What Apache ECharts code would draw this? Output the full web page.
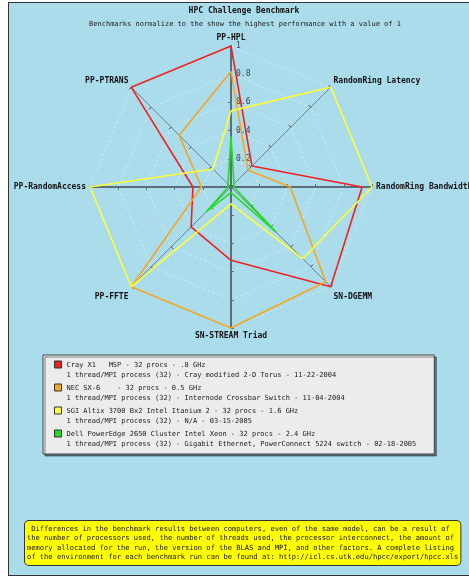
<!DOCTYPE html>
<html><head><meta charset="utf-8">
<script src="https://cdn.jsdelivr.net/npm/echarts@6/dist/echarts.min.js"></script>
<style>
html,body{margin:0;padding:0;background:#fff;overflow:hidden;}
#frame{position:absolute;left:8px;top:2px;width:480px;height:572px;border:1px solid #333;background:#aadcec;}
#chart{position:absolute;left:0;top:0;width:469px;height:577px;}
</style></head><body>
<div id="frame"></div><div id="chart"></div>
<script>
// indicators listed counter-clockwise from the top (ECharts radar order)
const indicatorNames = ['PP-HPL','PP-PTRANS','PP-RandomAccess','PP-FFTE','SN-STREAM Triad','SN-DGEMM','RandomRing Bandwidth','RandomRing Latency'];
const seriesNames = [
  'Cray X1   MSP - 32 procs - .8 GHz',
  'NEC SX-6    - 32 procs - 0.5 GHz',
  'SGI Altix 3700 Bx2 Intel Itanium 2 - 32 procs - 1.6 GHz',
  'Dell PowerEdge 2650 Cluster Intel Xeon - 32 procs - 2.4 GHz'
];
const seriesDetails = [
  '1 thread/MPI process (32) - Cray modified 2-D Torus - 11-22-2004',
  '1 thread/MPI process (32) - Internode Crossbar Switch - 11-04-2004',
  '1 thread/MPI process (32) - N/A - 03-15-2005',
  '1 thread/MPI process (32) - Gigabit Ethernet, PowerConnect 5224 switch - 02-18-2005'
];
const crayValues   = [1.00, 1.00, 0.27, 0.40, 0.52, 1.00, 0.93, 0.21];
const necValues    = [0.82, 0.52, 0.21, 1.00, 1.00, 0.95, 0.42, 0.17];
const sgiValues    = [0.54, 0.18, 1.00, 1.00, 0.12, 0.72, 1.00, 1.00];
const dellValues   = [0.36, 0.03, 0.02, 0.25, 0.04, 0.45, 0.02, 0.03];
const seriesColors = ['#ee2222', '#f5a623', '#ffff33', '#22dd22'];
const footnoteLines = [
  ' Differences in the benchmark results between computers, even of the same model, can be a result of',
  'the number of processors used, the number of threads used, the processor interconnect, the amount of',
  'memory allocated for the run, the version of the BLAS and MPI, and other factors. A complete listing',
  'of the environment for each benchmark run can be found at: http://icl.cs.utk.edu/hpcc/export/hpcc.xls'
];
const titleText = 'HPC Challenge Benchmark';
const subtitleText = 'Benchmarks normalize to the show the highest performance with a value of 1';

const MONO = "'DejaVu Sans Mono', monospace";
const allValues = [crayValues, necValues, sgiValues, dellValues];

const mainIndicators = indicatorNames.map((n, i) => {
  const straight = (i % 2 === 0);
  const ind = {
    name: n, min: 0, max: 1,
    axisLine: {lineStyle: straight ? {color: '#5b6e7a', width: 2} : {color: '#6f8089', width: 1}}
  };
  if (i === 0) {
    ind.axisLabel = {show: true, color: '#444', fontSize: 8, fontFamily: MONO, margin: -5, align: 'left', showMinLabel: false};
  }
  if (i === 1 || i === 7) {
    ind.nameTextStyle = {verticalAlign: 'bottom'};
  }
  if (i === 3 || i === 5) {
    ind.nameTextStyle = {verticalAlign: 'top', padding: [3, 0, 0, 0]};
  }
  return ind;
});
const tickIndicators = indicatorNames.map(n => ({name: n, min: 0, max: 1}));

const chart = echarts.init(document.getElementById('chart'), null, {renderer: 'canvas'});
chart.setOption({
  backgroundColor: 'transparent',
  animation: false,
  title: [
    {text: titleText, left: 239, top: 2, textAlign: 'center',
     textStyle: {fontFamily: MONO, fontSize: 8, fontWeight: 'bold', color: '#111'}},
    {text: subtitleText, left: 240, top: 16, textAlign: 'center',
     textStyle: {fontFamily: MONO, fontSize: 7, fontWeight: 'normal', color: '#222'}}
  ],
  radar: [
    {
      center: [231, 187], radius: 141, startAngle: 90, shape: 'polygon', splitNumber: 5,
      indicator: mainIndicators,
      axisName: {color: '#111', fontFamily: MONO, fontSize: 8, fontWeight: 'bold'},
      nameGap: 4,
      axisLine: {show: true},
      axisTick: {show: true, length: 3, lineStyle: {color: '#5b6e7a'}},
      axisLabel: {show: false},
      splitLine: {show: true, lineStyle: {color: '#d4edf7', type: [2, 3], width: 1}},
      splitArea: {show: false}
    },
    {
      center: [231, 187], radius: 141, startAngle: 90, shape: 'polygon', splitNumber: 5,
      indicator: tickIndicators,
      axisName: {show: false},
      axisLine: {show: false},
      axisTick: {show: true, inside: true, length: 3, lineStyle: {color: '#5b6e7a'}},
      axisLabel: {show: false},
      splitLine: {show: false},
      splitArea: {show: false}
    }
  ],
  legend: {
    orient: 'vertical', left: 43, top: 355,
    padding: [5, 18, 5, 11],
    itemGap: 3, itemWidth: 7, itemHeight: 18,
    icon: 'path://M0,0H10V10H0Z M0,25.7L0.001,25.7',
    itemStyle: {borderColor: '#333', borderWidth: 1},
    selectedMode: false,
    backgroundColor: '#ececec', borderColor: '#444', borderWidth: 1,
    shadowColor: 'rgba(0,0,0,0.45)', shadowBlur: 0, shadowOffsetX: 2, shadowOffsetY: 2,
    textStyle: {fontFamily: MONO, fontSize: 7, color: '#222', lineHeight: 10},
    data: seriesNames,
    formatter: name => name + '\n' + seriesDetails[seriesNames.indexOf(name)]
  },
  graphic: [{
    type: 'text', left: 24, top: 520, z: 10,
    style: {
      text: footnoteLines.join('\n'),
      font: "7.1px 'DejaVu Sans Mono', monospace",
      fill: '#111', lineHeight: 9.5,
      backgroundColor: '#ffff00', borderColor: '#333', borderWidth: 1, borderRadius: 4,
      padding: [3, 2, 3, 2]
    }
  }],
  series: seriesNames.map((name, i) => ({
    type: 'radar', name: name, radarIndex: 0,
    symbol: 'none', silent: true,
    lineStyle: {color: seriesColors[i], width: 1.6},
    itemStyle: {color: seriesColors[i]},
    emphasis: {disabled: true},
    data: [{name: name, value: allValues[i]}]
  }))
});
</script>
</body></html>
